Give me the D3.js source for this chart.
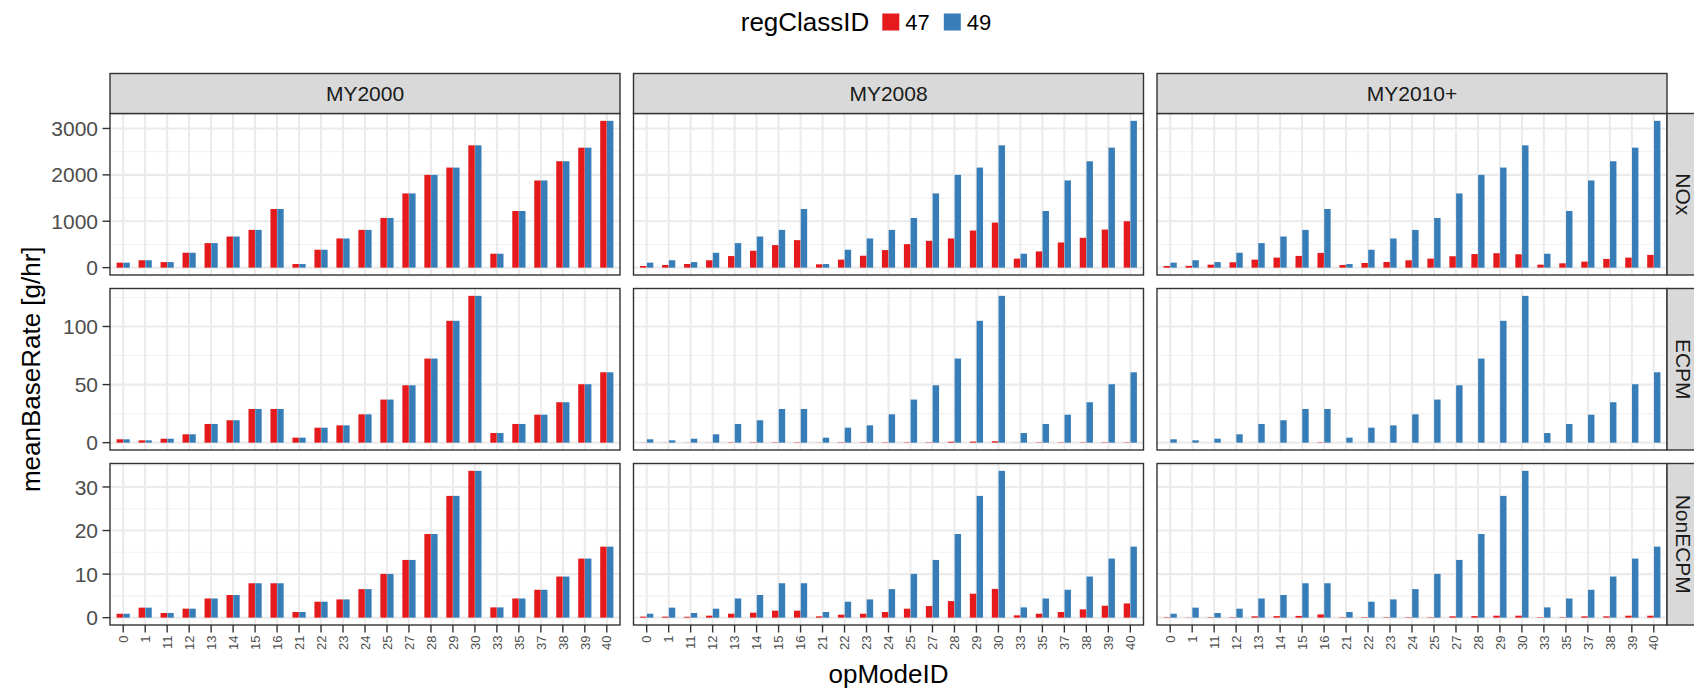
<!DOCTYPE html>
<html><head><meta charset="utf-8">
<script src="https://cdn.jsdelivr.net/npm/d3@7"></script>
<style>body{margin:0;background:#fff} text{font-family:"Liberation Sans", Arial, Helvetica, sans-serif}</style>
</head><body><svg id="c" width="1694" height="690"></svg>
<script>
// ---- data ----
const opModes = ["0","1","11","12","13","14","15","16","21","22","23","24","25","27","28","29","30","33","35","37","38","39","40"];
const modelYears = ["MY2000","MY2008","MY2010+"];
const pollutants = ["NOx","ECPM","NonECPM"];
const regClasses = ["47","49"];

const nox49          = [108,160,120,321,529,671,814,1264,78,386,629,814,1071,1600,2000,2157,2636,300,1221,1879,2293,2586,3164];
const nox47_MY2000   = [108,160,120,321,529,671,814,1264,78,386,629,814,1071,1600,2000,2157,2636,300,1221,1879,2293,2586,3164];
const nox47_MY2008   = [36,58,79,159,250,364,486,593,72,174,257,379,507,579,629,800,971,195,350,543,643,821,1000];
const nox47_MY2010   = [36,39,65,116,174,217,253,318,58,101,123,159,195,246,293,311,289,65,94,130,188,217,275];

const ecpm49         = [2.9,2.0,3.4,7.2,16.1,19.3,29.0,29.0,4.3,12.9,14.9,24.4,37.1,49.4,72.4,104.9,126.4,8.3,16.1,24.1,34.8,50.3,60.6];
const ecpm47_MY2000  = [2.9,2.0,3.4,7.2,16.1,19.3,29.0,29.0,4.3,12.9,14.9,24.4,37.1,49.4,72.4,104.9,126.4,8.3,16.1,24.1,34.8,50.3,60.6];
const ecpm47_MY2008  = [0.1,0.1,0.1,0.1,0.3,0.3,0.3,0.3,0.1,0.3,0.3,0.3,0.3,0.3,0.8,0.9,1.2,0.1,0.3,0.3,0.3,0.3,0.3];
const ecpm47_MY2010  = [0,0,0,0,0,0,0,0.3,0,0,0,0,0,0,0,0,0,0,0,0,0,0,0];

const nonecpm49        = [0.9,2.3,1.07,2.06,4.4,5.2,7.9,7.9,1.3,3.66,4.19,6.55,10.05,13.25,19.2,27.95,33.7,2.36,4.4,6.4,9.44,13.56,16.3];
const nonecpm47_MY2000 = [0.9,2.3,1.07,2.06,4.4,5.2,7.9,7.9,1.3,3.66,4.19,6.55,10.05,13.25,19.2,27.95,33.7,2.36,4.4,6.4,9.44,13.56,16.3];
const nonecpm47_MY2008 = [0.23,0.23,0.2,0.46,0.9,1.14,1.6,1.6,0.3,0.69,0.9,1.3,2.06,2.67,3.8,5.5,6.6,0.53,0.9,1.3,1.9,2.74,3.27];
const nonecpm47_MY2010 = [0.1,0.05,0.1,0.1,0.3,0.35,0.4,0.75,0.1,0.1,0.1,0.1,0.1,0.3,0.35,0.45,0.45,0.1,0.1,0.3,0.3,0.45,0.45];

const rates = {
  "NOx":     {"MY2000":{"47":nox47_MY2000,"49":nox49}, "MY2008":{"47":nox47_MY2008,"49":nox49}, "MY2010+":{"47":nox47_MY2010,"49":nox49}},
  "ECPM":    {"MY2000":{"47":ecpm47_MY2000,"49":ecpm49}, "MY2008":{"47":ecpm47_MY2008,"49":ecpm49}, "MY2010+":{"47":ecpm47_MY2010,"49":ecpm49}},
  "NonECPM": {"MY2000":{"47":nonecpm47_MY2000,"49":nonecpm49}, "MY2008":{"47":nonecpm47_MY2008,"49":nonecpm49}, "MY2010+":{"47":nonecpm47_MY2010,"49":nonecpm49}}
};

// ---- layout ----
const panelW = 510, panelH = 161.5, gapX = 13.5, gapY = 13.5;
const left0 = 110, top0 = 113.5, stripH = 40;
const svg = d3.select("#c");

const x = d3.scaleBand().domain(opModes).range([0, panelW]).paddingInner(0).paddingOuter(0.1);
const xs = d3.scaleBand().domain(regClasses).range([x.bandwidth()*0.2, x.bandwidth()*0.8]).paddingInner(0.05);
const color = d3.scaleOrdinal().domain(regClasses).range(["#E41A1C","#377EB8"]);

pollutants.forEach((p, ri) => {
  const all = modelYears.flatMap(my => regClasses.flatMap(rc => rates[p][my][rc]));
  const mx = d3.max(all);
  const y = d3.scaleLinear().domain([-0.05*mx, 1.05*mx]).range([panelH, 0]);
  const ticks = y.ticks(4).filter(t => t >= y.domain()[0] && t <= y.domain()[1]);
  const step = ticks[1] - ticks[0];
  const minor = [ticks[0]-step/2, ...ticks.map(t => t + step/2)].filter(t => t >= y.domain()[0] && t <= y.domain()[1]);
  const py = top0 + ri*(panelH + gapY);

  modelYears.forEach((my, ci) => {
    const px = left0 + ci*(panelW + gapX);
    const g = svg.append("g").attr("transform", `translate(${px},${py})`);
    g.append("rect").attr("width", panelW).attr("height", panelH).attr("fill", "#fff");
    g.selectAll(".mn").data(minor).enter().append("line")
      .attr("x1", 0).attr("x2", panelW).attr("y1", d => y(d)).attr("y2", d => y(d))
      .attr("stroke", "#F2F2F2").attr("stroke-width", 1.1);
    g.selectAll(".mj").data(ticks).enter().append("line")
      .attr("x1", 0).attr("x2", panelW).attr("y1", d => y(d)).attr("y2", d => y(d))
      .attr("stroke", "#EBEBEB").attr("stroke-width", 2.1);
    g.selectAll(".vx").data(opModes).enter().append("line")
      .attr("y1", 0).attr("y2", panelH).attr("x1", d => x(d) + x.bandwidth()/2).attr("x2", d => x(d) + x.bandwidth()/2)
      .attr("stroke", "#EBEBEB").attr("stroke-width", 2.1);
    regClasses.forEach(rc => {
      const vals = rates[p][my][rc];
      g.selectAll(".b" + rc).data(opModes).enter().append("rect")
        .attr("x", (d) => x(d) + xs(rc))
        .attr("width", xs.bandwidth())
        .attr("y", (d, i) => Math.min(y(vals[i]), y(0)))
        .attr("height", (d, i) => Math.abs(y(0) - y(vals[i])))
        .attr("fill", color(rc));
    });
    g.append("rect").attr("width", panelW).attr("height", panelH)
      .attr("fill", "none").attr("stroke", "#333333").attr("stroke-width", 1.4);

    if (ri === 0) {
      const s = svg.append("g").attr("transform", `translate(${px},${top0 - stripH})`);
      s.append("rect").attr("width", panelW).attr("height", stripH)
        .attr("fill", "#D9D9D9").attr("stroke", "#333333").attr("stroke-width", 1.4);
      s.append("text").attr("x", panelW/2).attr("y", stripH/2).attr("dy", "0.36em")
        .attr("text-anchor", "middle").attr("font-size", 21).attr("fill", "#1A1A1A").text(my);
    }
    if (ci === modelYears.length - 1) {
      const s = svg.append("g").attr("transform", `translate(${px + panelW},${py})`);
      s.append("rect").attr("width", stripH).attr("height", panelH)
        .attr("fill", "#D9D9D9").attr("stroke", "#333333").attr("stroke-width", 1.4);
      s.append("text").attr("transform", `translate(16.5,${panelH/2}) rotate(90)`).attr("dy", "0.36em")
        .attr("text-anchor", "middle").attr("font-size", 21).attr("fill", "#1A1A1A").text(p);
    }
    if (ci === 0) {
      const a = g.append("g");
      a.selectAll("line").data(ticks).enter().append("line")
        .attr("x1", -7.5).attr("x2", 0).attr("y1", d => y(d)).attr("y2", d => y(d))
        .attr("stroke", "#333333").attr("stroke-width", 1.4);
      a.selectAll("text").data(ticks).enter().append("text")
        .attr("x", -12).attr("y", d => y(d)).attr("dy", "0.36em").attr("text-anchor", "end")
        .attr("font-size", 21).attr("fill", "#4D4D4D").text(d => d === 0 ? "0" : String(d));
    }
    if (ri === pollutants.length - 1) {
      const a = g.append("g").attr("transform", `translate(0,${panelH})`);
      a.selectAll("line").data(opModes).enter().append("line")
        .attr("x1", d => x(d) + x.bandwidth()/2).attr("x2", d => x(d) + x.bandwidth()/2)
        .attr("y1", 0).attr("y2", 7.5).attr("stroke", "#333333").attr("stroke-width", 1.4);
      a.selectAll("text").data(opModes).enter().append("text")
        .attr("transform", d => `translate(${x(d) + x.bandwidth()/2},10.5) rotate(-90)`)
        .attr("dy", "0.36em").attr("text-anchor", "end")
        .attr("font-size", 13).attr("fill", "#4D4D4D").text(d => d);
    }
  });
});

// axis titles
const plotCx = left0 + (3*panelW + 2*gapX)/2;
const plotCy = top0 + (3*panelH + 2*gapY)/2;
svg.append("text").attr("x", plotCx).attr("y", 683).attr("text-anchor", "middle")
  .attr("font-size", 26).attr("fill", "#000").text("opModeID");
svg.append("text").attr("transform", `translate(31,${plotCy}) rotate(-90)`).attr("dy", "0.36em")
  .attr("text-anchor", "middle").attr("font-size", 26).attr("fill", "#000").text("meanBaseRate [g/hr]");

// legend
const lg = svg.append("g");
const ly = 22;
const title = lg.append("text").attr("x", 0).attr("y", ly).attr("dy", "0.36em").attr("font-size", 26).text("regClassID");
let cur = title.node().getComputedTextLength() + 13;
regClasses.forEach(rc => {
  lg.append("rect").attr("x", cur).attr("y", ly - 8.5).attr("width", 17).attr("height", 17).attr("fill", color(rc));
  cur += 17 + 6;
  const t = lg.append("text").attr("x", cur).attr("y", ly).attr("dy", "0.36em").attr("font-size", 22).text(rc);
  cur += t.node().getComputedTextLength() + 14;
});
const totalW = cur - 14;
lg.attr("transform", `translate(${866 - totalW/2},0)`);
</script></body></html>
